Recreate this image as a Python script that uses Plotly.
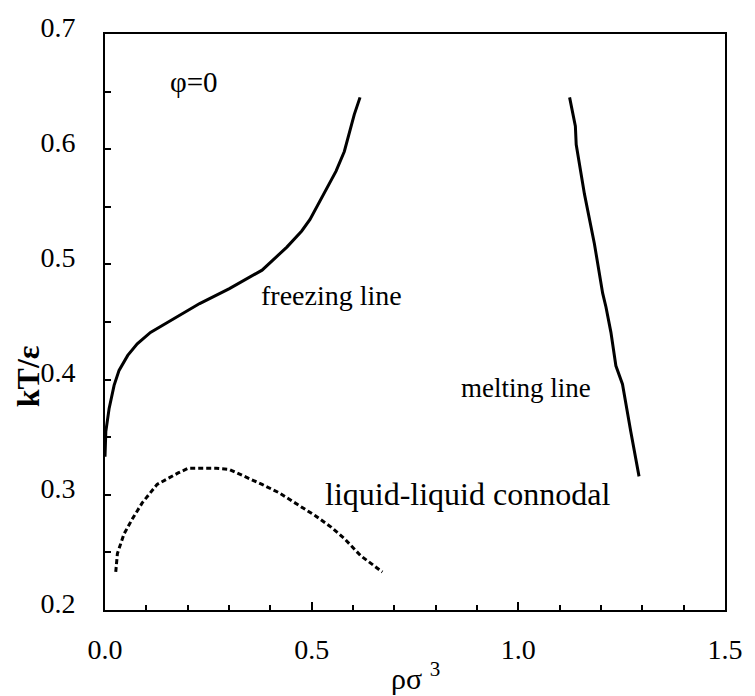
import plotly.graph_objects as go

# Freezing line (solid)
freeze_x = [0.000, 0.002, 0.010, 0.022, 0.034, 0.055, 0.078, 0.110, 0.153, 0.229, 0.301,
            0.380, 0.440, 0.476, 0.496, 0.539, 0.559, 0.579, 0.603, 0.617]
freeze_y = [0.333, 0.355, 0.375, 0.395, 0.408, 0.421, 0.431, 0.441, 0.450, 0.466, 0.479,
            0.495, 0.515, 0.529, 0.539, 0.568, 0.581, 0.598, 0.630, 0.645]

# Melting line (solid)
melt_x = [1.124, 1.138, 1.140, 1.160, 1.184, 1.204, 1.212, 1.224, 1.236, 1.252, 1.272, 1.292]
melt_y = [0.645, 0.620, 0.604, 0.561, 0.518, 0.475, 0.463, 0.441, 0.412, 0.396, 0.355, 0.316]

# Liquid-liquid connodal (dashed)
conn_x = [0.026, 0.030, 0.046, 0.066, 0.090, 0.126, 0.177, 0.201, 0.237, 0.269, 0.301,
          0.332, 0.380, 0.420, 0.460, 0.508, 0.547, 0.579, 0.619, 0.671]
conn_y = [0.233, 0.249, 0.266, 0.279, 0.293, 0.309, 0.319, 0.323, 0.323, 0.323, 0.322,
          0.317, 0.309, 0.302, 0.293, 0.282, 0.272, 0.262, 0.247, 0.233]

x_tickvals = [0.0, 0.5, 1.0, 1.5]
x_ticktext = ["0.0", "0.5", "1.0", "1.5"]
y_tickvals = [0.2, 0.3, 0.4, 0.5, 0.6, 0.7]
y_ticktext = ["0.2", "0.3", "0.4", "0.5", "0.6", "0.7"]

labels = ["φ=0", "freezing line", "melting line", "liquid-liquid connodal"]
label_x = [0.215, 0.547, 1.019, 0.876]
label_y = [0.658, 0.473, 0.393, 0.301]
label_size = [29, 28, 27, 32]

FONT = "Liberation Serif, Times New Roman, serif"

fig = go.Figure()
fig.add_trace(go.Scatter(x=freeze_x, y=freeze_y, mode="lines",
                         line=dict(color="black", width=3), showlegend=False))
fig.add_trace(go.Scatter(x=melt_x, y=melt_y, mode="lines",
                         line=dict(color="black", width=3), showlegend=False))
fig.add_trace(go.Scatter(x=conn_x, y=conn_y, mode="lines",
                         line=dict(color="black", width=3, dash="5px,3px"), showlegend=False))

for t, x, y, s in zip(labels, label_x, label_y, label_size):
    fig.add_annotation(x=x, y=y, xref="x", yref="y", text=t, showarrow=False,
                       font=dict(family=FONT, size=s, color="black"),
                       xanchor="center", yanchor="middle")

fig.add_annotation(x=-0.125, y=0.405, xref="paper", yref="paper", text="<b>kT/ε</b>",
                   textangle=-90, showarrow=False,
                   font=dict(family=FONT, size=32, color="black"),
                   xanchor="center", yanchor="middle")
fig.add_annotation(x=0.5, y=-0.115, xref="paper", yref="paper", text="ρσ <sup>3</sup>",
                   showarrow=False, font=dict(family=FONT, size=30, color="black"),
                   xanchor="center", yanchor="middle")

fig.update_xaxes(range=[0, 1.5], tickvals=x_tickvals, ticktext=x_ticktext,
                 ticks="inside", ticklen=8, tickwidth=2, tickcolor="black",
                 minor=dict(dtick=0.1, ticks="inside", ticklen=5, tickwidth=2, tickcolor="black"),
                 showline=True, linecolor="black", linewidth=2, mirror=True,
                 showgrid=False, zeroline=False, ticklabelstandoff=13,
                 tickfont=dict(family=FONT, size=28, color="black"))
fig.update_yaxes(range=[0.2, 0.7], tickvals=y_tickvals, ticktext=y_ticktext,
                 ticks="inside", ticklen=6, tickwidth=2, tickcolor="black",
                 minor=dict(dtick=0.05, ticks="inside", ticklen=6, tickwidth=2, tickcolor="black"),
                 showline=True, linecolor="black", linewidth=2, mirror=True,
                 showgrid=False, zeroline=False, ticklabelstandoff=22, ticklabelshift=-7,
                 tickfont=dict(family=FONT, size=28, color="black"))

fig.update_layout(width=755, height=696, plot_bgcolor="white", paper_bgcolor="white",
                  margin=dict(l=105, r=23, t=28, b=86), showlegend=False)

fig.write_html("out.html", config={"displayModeBar": False},
               post_script="document.body.style.margin='0px';")
